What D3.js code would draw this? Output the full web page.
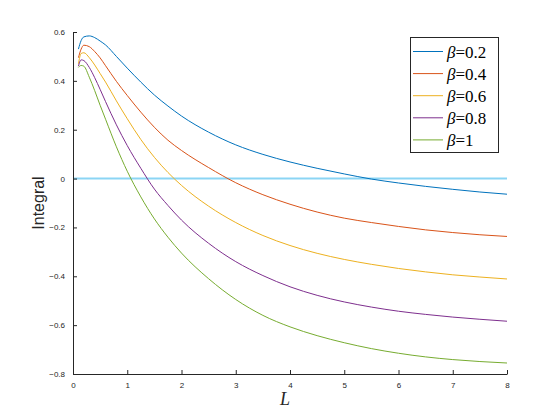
<!DOCTYPE html>
<html><head><meta charset="utf-8">
<script src="https://cdn.jsdelivr.net/npm/d3@7"></script>
<style>body{margin:0;background:#fff}svg{display:block}</style>
</head><body>
<script>
const Lvals = [0.1,0.15,0.2,0.3,0.4,0.5,0.6,0.8,1.0,1.25,1.5,1.75,2,2.5,3,3.5,4,4.5,5,5.5,6,6.5,7,7.5,8];
const beta02 = [0.53,0.565,0.58,0.584,0.577,0.563,0.547,0.5,0.452,0.395,0.342,0.297,0.256,0.19,0.138,0.099,0.068,0.042,0.019,-0.002,-0.018,-0.032,-0.044,-0.055,-0.064];
const beta04 = [0.495,0.53,0.546,0.54,0.52,0.494,0.462,0.398,0.34,0.272,0.21,0.157,0.115,0.045,-0.017,-0.066,-0.105,-0.137,-0.162,-0.18,-0.196,-0.21,-0.221,-0.23,-0.237];
const beta06 = [0.47,0.512,0.515,0.495,0.465,0.43,0.395,0.318,0.245,0.16,0.087,0.025,-0.028,-0.113,-0.18,-0.233,-0.274,-0.306,-0.331,-0.351,-0.368,-0.382,-0.394,-0.403,-0.411];
const beta08 = [0.46,0.486,0.483,0.455,0.413,0.365,0.315,0.22,0.135,0.042,-0.043,-0.11,-0.17,-0.265,-0.34,-0.397,-0.443,-0.478,-0.505,-0.526,-0.543,-0.556,-0.567,-0.576,-0.584];
const beta10 = [0.455,0.463,0.46,0.415,0.36,0.3,0.243,0.13,0.03,-0.075,-0.165,-0.24,-0.305,-0.41,-0.495,-0.56,-0.607,-0.643,-0.672,-0.696,-0.715,-0.73,-0.741,-0.749,-0.755];
const seriesNames = ["0.2","0.4","0.6","0.8","1"];
const xTicks = [0,1,2,3,4,5,6,7,8];
const yTicks = [-0.8,-0.6,-0.4,-0.2,0,0.2,0.4,0.6];
const colors = ["#0072BD","#D95319","#EDB120","#7E2F8E","#77AC30"];
const allSeries = [beta02,beta04,beta06,beta08,beta10];

const W=560,H=420;
const svg = d3.select("body").append("svg").attr("width",W).attr("height",H);
const x = d3.scaleLinear().domain([0,8]).range([73,507]);
const y = d3.scaleLinear().domain([-0.8,0.6]).range([374,32]);

// zero line
svg.append("line").attr("x1",x(0)).attr("x2",x(8)).attr("y1",y(0)).attr("y2",y(0))
  .attr("stroke","#4DBEEE").attr("stroke-opacity",0.65).attr("stroke-width",2);

const line = d3.line().x(d=>x(d[0])).y(d=>y(d[1])).curve(d3.curveMonotoneX);
allSeries.forEach((s,i)=>{
  svg.append("path").datum(Lvals.map((l,j)=>[l,s[j]]))
    .attr("d",line).attr("fill","none").attr("stroke",colors[i]).attr("stroke-width",1);
});

const xa = svg.append("g").attr("transform",`translate(0,${y(-0.8)})`)
  .call(d3.axisBottom(x).tickValues(xTicks).tickFormat(d3.format("d")).tickSizeInner(-4).tickSizeOuter(0).tickPadding(8));
const ya = svg.append("g").attr("transform",`translate(${x(0)},0)`)
  .call(d3.axisLeft(y).tickValues(yTicks).tickFormat(d=>d===0?"0":d3.format(".1f")(d)).tickSizeInner(-4).tickSizeOuter(0).tickPadding(8));
[xa,ya].forEach(a=>{
  a.selectAll("path,line").attr("stroke","#262626");
  a.selectAll("text").attr("fill","#262626").style("font-family","'Liberation Sans',Arial,sans-serif").style("font-size","8px");
});

svg.append("text").attr("x",285).attr("y",405).attr("text-anchor","middle")
  .style("font-family","'Liberation Serif','DejaVu Serif',serif").style("font-style","italic").style("font-size","18px").attr("fill","#262626").text("L");
svg.append("text").attr("transform","translate(44,203) rotate(-90)").attr("text-anchor","middle")
  .style("font-family","'Liberation Sans',Arial,sans-serif").style("font-size","16px").attr("fill","#262626").text("Integral");

// legend
const lg = svg.append("g");
lg.append("rect").attr("x",410.5).attr("y",37.5).attr("width",88).attr("height",115)
  .attr("fill","#fff").attr("stroke","#262626").attr("stroke-width",1);
seriesNames.forEach((n,i)=>{
  const yy = 51.5 + i*22.1;
  lg.append("line").attr("x1",413).attr("x2",443).attr("y1",yy).attr("y2",yy).attr("stroke",colors[i]).attr("stroke-width",1);
  const t = lg.append("text").attr("x",447).attr("y",yy+6)
    .style("font-family","'Liberation Serif','DejaVu Serif',serif").style("font-size","17px").attr("fill","#000");
  t.append("tspan").style("font-style","italic").text("β");
  t.append("tspan").text("=" + n);
});
</script>
</body></html>
